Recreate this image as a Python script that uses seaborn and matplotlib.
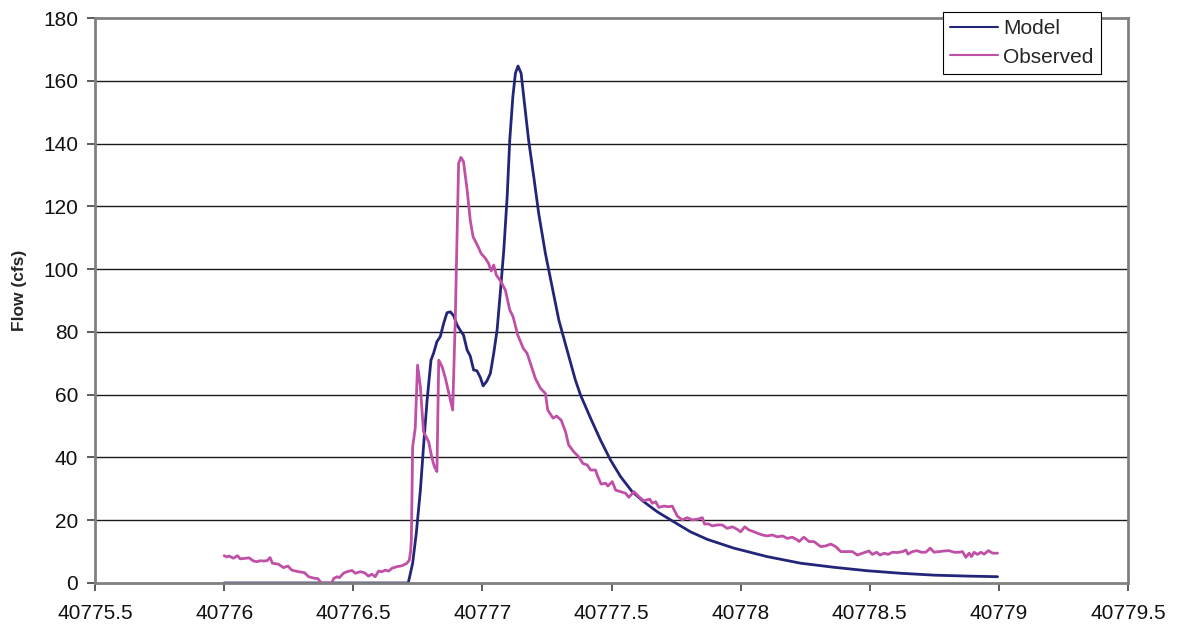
import numpy as np
import pandas as pd
import matplotlib
matplotlib.use("Agg")
import matplotlib.pyplot as plt
import seaborn as sns

# ---- data ----
t0 = 40776.0
obs_offset = [0.000, 0.010, 0.019, 0.036, 0.052, 0.062, 0.088, 0.097, 0.114, 0.127,
              0.140, 0.152, 0.166, 0.178, 0.187, 0.210, 0.230, 0.247, 0.262, 0.288,
              0.311, 0.327, 0.350, 0.363, 0.376, 0.417, 0.424, 0.437, 0.446, 0.462,
              0.476, 0.495, 0.508, 0.527, 0.543, 0.559, 0.572, 0.585, 0.598, 0.611,
              0.624, 0.637, 0.650, 0.669, 0.689, 0.708, 0.717, 0.722, 0.725, 0.730,
              0.740, 0.749, 0.760, 0.772, 0.792, 0.805, 0.814, 0.824, 0.831, 0.844,
              0.857, 0.869, 0.885, 0.895, 0.908, 0.917, 0.927, 0.941, 0.953, 0.964,
              0.982, 0.995, 1.012, 1.024, 1.034, 1.044, 1.054, 1.072, 1.089, 1.106,
              1.119, 1.137, 1.158, 1.173, 1.186, 1.205, 1.225, 1.244, 1.253, 1.274,
              1.287, 1.305, 1.322, 1.334, 1.354, 1.373, 1.389, 1.406, 1.419, 1.438,
              1.447, 1.460, 1.477, 1.486, 1.503, 1.516, 1.535, 1.554, 1.567, 1.587,
              1.606, 1.625, 1.648, 1.658, 1.671, 1.683, 1.703, 1.722, 1.735, 1.755,
              1.774, 1.793, 1.813, 1.832, 1.852, 1.860, 1.877, 1.890, 1.910, 1.929,
              1.948, 1.968, 1.987, 2.000, 2.016, 2.032, 2.052, 2.067, 2.084, 2.103,
              2.123, 2.142, 2.162, 2.181, 2.200, 2.220, 2.226, 2.245, 2.265, 2.284,
              2.297, 2.310, 2.329, 2.349, 2.368, 2.388, 2.407, 2.433, 2.452, 2.472,
              2.497, 2.510, 2.527, 2.540, 2.556, 2.571, 2.588, 2.607, 2.627, 2.640,
              2.648, 2.665, 2.682, 2.700, 2.717, 2.734, 2.749, 2.769, 2.788, 2.807,
              2.827, 2.846, 2.859, 2.872, 2.885, 2.894, 2.904, 2.917, 2.930, 2.943,
              2.959, 2.976, 2.995]
obs_flow = [8.7, 8.3, 8.6, 7.9, 8.7, 7.7, 7.9, 8.0, 7.0, 6.8,
            7.1, 7.0, 7.1, 8.1, 6.3, 6.0, 4.9, 5.4, 4.1, 3.6,
            3.3, 2.0, 1.5, 1.4, 0.0, 0.0, 1.4, 2.0, 1.7, 3.1,
            3.6, 4.0, 3.1, 3.6, 3.3, 2.2, 2.8, 2.0, 3.8, 3.6,
            4.1, 3.8, 4.7, 5.2, 5.5, 6.3, 7.3, 10.0, 13.7, 43.4,
            49.3, 69.4, 62.5, 48.2, 45.0, 39.7, 37.1, 35.5, 71.0, 68.9,
            65.2, 60.9, 55.1, 83.8, 133.7, 135.6, 134.2, 125.2, 115.6, 110.3,
            107.4, 105.0, 103.4, 101.8, 99.4, 101.3, 98.1, 96.0, 93.3, 87.0,
            84.8, 79.0, 74.8, 73.2, 70.0, 65.2, 62.0, 60.4, 55.1, 52.5,
            53.2, 51.9, 48.2, 44.0, 41.8, 40.2, 38.1, 37.6, 36.0, 36.0,
            33.9, 31.5, 31.8, 30.9, 32.3, 29.6, 29.1, 28.6, 27.3, 29.1,
            27.5, 26.2, 26.7, 25.4, 25.9, 24.1, 24.5, 24.3, 24.5, 21.3,
            20.1, 20.8, 20.1, 20.3, 20.8, 18.8, 18.8, 18.2, 18.5, 18.5,
            17.4, 17.9, 17.1, 16.3, 17.9, 16.9, 16.3, 15.8, 15.3, 15.0,
            15.3, 14.7, 15.0, 14.2, 14.6, 13.7, 13.2, 14.6, 13.2, 13.2,
            12.4, 11.6, 11.8, 12.4, 11.6, 10.0, 10.0, 10.0, 8.9, 9.5,
            10.2, 9.1, 9.8, 8.9, 9.5, 9.1, 9.8, 9.7, 10.0, 10.5,
            9.2, 10.0, 10.3, 9.8, 9.8, 11.1, 9.8, 10.0, 10.2, 10.3,
            9.8, 9.8, 10.0, 8.2, 9.5, 8.4, 9.8, 9.1, 9.8, 9.2,
            10.3, 9.5, 9.5]

model_offset = [0.000, 0.713, 0.730, 0.744, 0.760, 0.772, 0.786, 0.801, 0.811, 0.824,
                0.837, 0.850, 0.863, 0.876, 0.889, 0.902, 0.915, 0.927, 0.941, 0.953,
                0.966, 0.979, 0.992, 1.003, 1.018, 1.031, 1.044, 1.057, 1.070, 1.083,
                1.096, 1.106, 1.118, 1.128, 1.138, 1.150, 1.163, 1.179, 1.199, 1.218,
                1.244, 1.270, 1.296, 1.326, 1.360, 1.380, 1.419, 1.457, 1.496, 1.535,
                1.580, 1.625, 1.677, 1.741, 1.806, 1.871, 1.974, 2.103, 2.233, 2.362,
                2.491, 2.620, 2.749, 2.879, 2.995]
model_flow = [0.0, 0.0, 6.3, 15.8, 29.6, 43.4, 58.3, 71.0, 73.2, 76.9,
              78.5, 82.7, 86.1, 86.4, 85.1, 82.2, 80.4, 79.0, 74.2, 72.3,
              67.9, 67.6, 65.5, 62.8, 64.4, 66.8, 73.2, 80.6, 93.0, 106.1,
              123.1, 141.1, 154.9, 162.4, 164.7, 162.4, 152.8, 141.1, 129.4, 117.8,
              105.0, 94.4, 83.8, 74.8, 64.7, 59.9, 52.5, 45.6, 39.2, 33.9,
              29.1, 25.9, 22.7, 19.5, 16.3, 13.9, 11.1, 8.4, 6.3, 5.0,
              3.9, 3.1, 2.5, 2.2, 2.0]

x_ticks = [40775.5, 40776, 40776.5, 40777, 40777.5, 40778, 40778.5, 40779, 40779.5]
x_tick_labels = ["40775.5", "40776", "40776.5", "40777", "40777.5", "40778", "40778.5", "40779", "40779.5"]
y_ticks = [0, 20, 40, 60, 80, 100, 120, 140, 160, 180]

model_df = pd.DataFrame({"t": t0 + np.array(model_offset), "flow": model_flow})
obs_df = pd.DataFrame({"t": t0 + np.array(obs_offset), "flow": obs_flow})

# ---- style ----
sns.set_style("white")
plt.rcParams["font.family"] = ["Liberation Sans", "DejaVu Sans"]

fig = plt.figure(figsize=(11.79, 6.28), dpi=100)
ax = fig.add_axes([95 / 1179, 45 / 628, (1128 - 95) / 1179, (583 - 18) / 628])

navy = "#232579"
pink = "#c050a6"

sns.lineplot(data=model_df, x="t", y="flow", ax=ax, color=navy, linewidth=2.0,
             label="Model", sort=False)
sns.lineplot(data=obs_df, x="t", y="flow", ax=ax, color=pink, linewidth=2.0,
             label="Observed", sort=False)

ax.set_xlim(40775.5, 40779.5)
ax.set_ylim(0, 180)
ax.set_xticks(x_ticks)
ax.set_xticklabels(x_tick_labels)
ax.set_yticks(y_ticks)

for y in y_ticks[1:-1]:
    ax.axhline(y, color="#1a1a1a", linewidth=1.0, zorder=0)

for side in ["left", "bottom", "top", "right"]:
    ax.spines[side].set_visible(True)
    ax.spines[side].set_color("#808080")
    ax.spines[side].set_linewidth(2.0)

ax.tick_params(axis="both", which="major", direction="out", length=6, width=1.2,
               color="#404040", labelsize=15, labelcolor="#111111",
               bottom=True, left=True)
ax.tick_params(axis="x", pad=9)
ax.tick_params(axis="y", pad=6)

ax.set_xlabel("")
ax.set_ylabel("Flow (cfs)", fontsize=12.5, fontweight="bold")
ax.yaxis.set_label_coords((27 - 95) / 1033, (583 - 290) / 565)

leg = ax.legend(loc="upper left", bbox_to_anchor=(943 / 1179, 1 - 12 / 628),
                bbox_transform=fig.transFigure, frameon=True, fancybox=False,
                edgecolor="#000000", framealpha=1.0, fontsize=15,
                handlelength=2.3, handletextpad=0.25, labelspacing=0.45,
                borderpad=0.35, borderaxespad=0.0)
leg.get_frame().set_linewidth(0.8)
for line in leg.get_lines():
    line.set_linewidth(1.5)

fig.savefig("out.png", dpi=100)
